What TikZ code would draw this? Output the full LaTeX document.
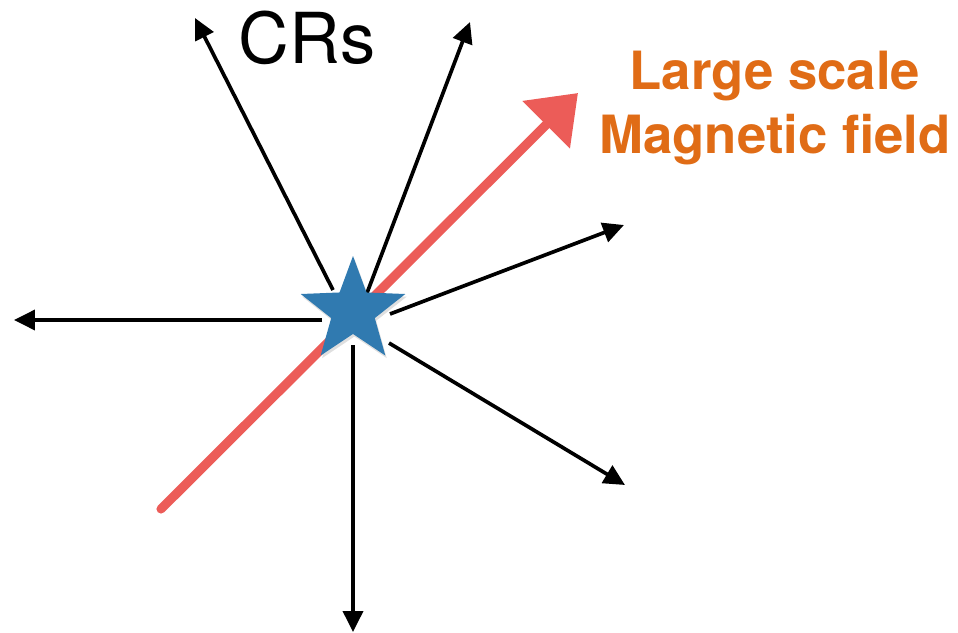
\documentclass[tikz,border=0pt]{standalone}
\usepackage{fontspec}
\setmainfont{TeX Gyre Heros}
\usetikzlibrary{arrows.meta,shapes.geometric,shadows}
\definecolor{fieldred}{RGB}{236,92,88}
\definecolor{starblue}{RGB}{48,122,176}
\definecolor{labelorange}{RGB}{224,108,22}

\begin{document}
\begin{tikzpicture}[
  x=0.02cm, y=-0.02cm,
  cr/.style={-{Triangle[length=4.2mm, width=4mm]}, line width=2.1pt},
  field/.style={-{Triangle[length=9mm, width=13mm]}, line width=5.2pt,
                draw=fieldred, fill=fieldred, line cap=round},
  src/.style={star, star points=5, star point ratio=2.4, minimum size=2.2cm,
              inner sep=0pt, fill=starblue, draw=none,
              drop shadow={opacity=0.25, shadow xshift=0.8pt, shadow yshift=-1.5pt}},
  lbl/.style={inner sep=0pt, align=center}]
  \useasboundingbox (0,0) rectangle (958,633);
  % tails and tips
  \coordinate (ft) at (161,509);
  \coordinate (fh) at (578,93);
  \coordinate (a1) at (333,290); \coordinate (b1) at (195,18);
  \coordinate (a2) at (367,293); \coordinate (b2) at (470,22);
  \coordinate (a3) at (390,314); \coordinate (b3) at (624,225);
  \coordinate (a4) at (322,320); \coordinate (b4) at (14,320);
  \coordinate (a5) at (389,343); \coordinate (b5) at (625,485);
  \coordinate (a6) at (353,345); \coordinate (b6) at (353,632);
  \draw[field] (ft) -- (fh);
  \foreach \i in {1,...,6}
    \draw[cr] (a\i) -- (b\i);
  \node[src] (src) at (353,311) {};
  \node[lbl, font=\fontsize{40}{48}\selectfont] (crs) at (307,38) {CRs};
  \node[lbl, font=\fontsize{30}{36}\selectfont\bfseries, text=labelorange]
    (bfield) at (775,108) {Large scale\\Magnetic field};
\end{tikzpicture}
\end{document}
